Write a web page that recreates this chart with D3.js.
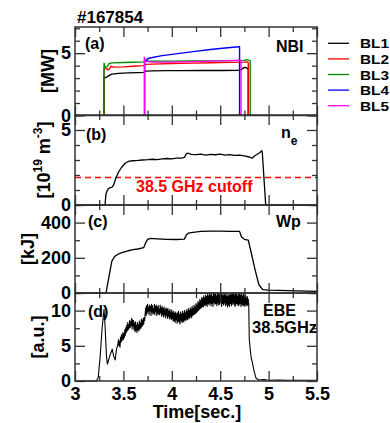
<!DOCTYPE html>
<html><head><meta charset="utf-8">
<script src="https://cdn.jsdelivr.net/npm/d3@7"></script>
<style>
body{margin:0;background:#fff}
svg text{font-family:"Liberation Sans",Arial,Helvetica,sans-serif;font-weight:bold}
</style>
</head><body>
<svg id="c" width="390" height="423"></svg>
<script>
// ---------- data ----------
const shotTitle = "#167854";
const seriesNames = ["BL1","BL2","BL3","BL4","BL5"];
const seriesColors = ["#000000","#ff0000","#008c00","#0000ff","#ff00ff"];
const bl1 = [[3.30,0],[3.30,3.0],[3.32,3.05],[3.35,3.2],[3.38,3.32],[3.45,3.38],[3.55,3.42],[3.65,3.44],[3.71,3.46],[3.73,3.56],[3.80,3.58],[3.95,3.6],[4.1,3.6],[4.3,3.61],[4.5,3.61],[4.7,3.62],[4.72,3.7],[4.75,3.86],[4.77,3.84],[4.79,3.72],[4.79,0]];
const bl2 = [[3.30,0],[3.30,3.82],[3.32,3.78],[3.34,3.66],[3.355,3.72],[3.37,3.95],[3.40,3.88],[3.5,3.9],[3.6,3.95],[3.71,4.0],[3.73,4.1],[3.8,4.12],[4.0,4.17],[4.2,4.2],[4.4,4.23],[4.6,4.26],[4.75,4.28],[4.78,4.3],[4.79,4.25],[4.79,0]];
const bl3 = [[3.30,0],[3.30,4.2],[3.31,3.88],[3.33,3.9],[3.35,4.15],[3.38,4.22],[3.5,4.25],[3.6,4.27],[3.71,4.3],[3.73,4.38],[3.8,4.35],[4.0,4.36],[4.2,4.37],[4.4,4.38],[4.6,4.4],[4.75,4.42],[4.77,4.48],[4.80,4.42],[4.81,4.4],[4.81,0]];
const bl4 = [[3.72,0],[3.72,4.5],[3.735,4.4],[3.75,4.55],[3.8,4.65],[3.9,4.8],[4.0,4.9],[4.2,5.1],[4.4,5.3],[4.55,5.42],[4.69,5.52],[4.70,5.52],[4.70,0]];
const bl5 = [[3.716,0],[3.716,4.68],[3.725,4.3],[3.74,4.35],[3.8,4.28],[4.0,4.28],[4.2,4.32],[4.4,4.36],[4.6,4.4],[4.70,4.43],[4.715,4.43],[4.715,0]];
const nbiSeries = [bl1,bl2,bl3,bl4,bl5];

const neData = [[3.0,0],[3.31,0],[3.32,0.75],[3.34,1.05],[3.36,1.15],[3.38,1.18],[3.40,1.35],[3.42,1.75],[3.45,2.2],[3.48,2.5],[3.52,2.8],[3.56,2.92],[3.60,2.95],[3.65,2.97],[3.70,3.0],[3.75,3.02],[3.80,3.05],[3.85,3.03],[3.90,3.08],[3.95,3.1],[4.0,3.08],[4.05,3.12],[4.10,3.13],[4.13,3.17],[4.15,3.42],[4.17,3.45],[4.20,3.38],[4.25,3.36],[4.30,3.39],[4.35,3.33],[4.40,3.37],[4.45,3.35],[4.50,3.39],[4.55,3.33],[4.60,3.36],[4.65,3.31],[4.70,3.33],[4.75,3.28],[4.80,3.2],[4.83,3.12],[4.86,3.3],[4.90,3.45],[4.93,3.62],[4.935,3.5],[4.97,0],[5.5,0]];
const cutoffValue = 1.83;
const cutoffLabel = "38.5 GHz cutoff";

const wpData = [[3.0,0],[3.32,0],[3.35,90],[3.38,180],[3.41,208],[3.45,222],[3.50,232],[3.55,240],[3.60,246],[3.65,250],[3.71,258],[3.73,285],[3.75,305],[3.78,310],[3.85,308],[3.95,305],[4.05,304],[4.13,306],[4.15,330],[4.17,340],[4.22,345],[4.30,350],[4.40,352],[4.50,352],[4.60,350],[4.70,350],[4.72,318],[4.75,305],[4.79,300],[4.82,230],[4.86,133],[4.90,47],[4.94,19],[5.0,16],[5.2,14],[5.4,11],[5.5,9]];

const ebeData = [[3.0,0],[3.22,0],[3.24,0.5],[3.26,3.5],[3.28,7.5],[3.30,10.2],[3.31,8.0],[3.325,3.5],[3.335,2.4],[3.36,3.6],[3.385,4.5],[3.40,3.5],[3.415,3.0],[3.43,4.6],[3.44,5.0],
[3.450,5.9],[3.455,5.0],[3.460,5.6],[3.465,4.8],[3.470,6.2],[3.475,5.5],[3.480,6.6],[3.485,5.7],[3.490,6.1],[3.495,6.9],[3.500,5.9],[3.505,6.7],[3.510,6.2],[3.515,7.3],[3.520,6.5],[3.525,7.6],[3.530,6.9],[3.535,7.9],[3.540,7.1],[3.545,8.3],[3.550,7.3],[3.555,8.0],[3.560,7.5],[3.565,8.6],[3.570,7.6],[3.575,8.4],[3.580,7.9],[3.585,8.9],[3.590,7.4],[3.595,8.7],[3.600,7.8],[3.605,8.6],[3.610,7.3],[3.615,8.2],[3.620,7.0],[3.625,8.4],[3.630,7.2],[3.635,7.9],[3.640,6.9],[3.645,8.3],[3.650,7.3],[3.655,8.0],[3.660,7.1],[3.665,8.5],[3.670,7.4],[3.675,8.2],[3.680,7.5],[3.685,8.8],[3.690,7.7],[3.695,8.6],[3.700,7.9],[3.705,8.9],[3.710,8.1],[3.715,9.0],[3.720,8.6],[3.725,9.6],
[3.730,10.4],[3.735,9.3],[3.740,10.7],[3.745,9.6],[3.750,10.9],[3.755,9.9],[3.760,10.5],[3.765,9.4],[3.770,10.8],[3.775,10.0],[3.780,10.6],[3.785,9.3],[3.790,10.9],[3.795,9.8],[3.800,10.7],[3.805,9.5],[3.810,10.3],[3.815,9.7],[3.820,10.9],[3.825,9.4],[3.830,10.6],[3.835,9.9],[3.840,10.8],[3.845,9.3],[3.850,10.5],[3.855,9.6],[3.860,10.7],[3.865,9.5],[3.870,10.2],[3.875,9.4],[3.880,10.8],[3.885,9.7],[3.890,10.4],[3.895,9.2],[3.900,10.6],[3.905,9.5],[3.910,10.3],[3.915,9.1],[3.920,10.5],[3.925,9.4],[3.930,10.1],[3.935,9.0],[3.940,10.4],[3.945,9.3],[3.950,10.2],[3.955,8.9],[3.960,10.3],[3.965,9.2],[3.970,9.9],[3.975,8.8],[3.980,10.2],[3.985,9.0],[3.990,9.8],[3.995,8.7],
[4.000,10.1],[4.005,8.9],[4.010,9.7],[4.015,8.5],[4.020,9.9],[4.025,8.6],[4.030,9.6],[4.035,8.3],[4.040,9.8],[4.045,8.7],[4.050,9.5],[4.055,8.2],[4.060,9.7],[4.065,8.5],[4.070,9.9],[4.075,8.4],[4.080,9.4],[4.085,8.1],[4.090,9.8],[4.095,8.6],[4.100,9.5],[4.105,8.3],[4.110,9.9],[4.115,8.5],[4.120,9.6],[4.125,8.4],[4.130,10.0],[4.135,8.7],[4.140,9.7],[4.145,8.6],[4.150,10.1],[4.155,8.8],[4.160,9.9],[4.165,8.7],[4.170,10.3],[4.175,9.0],[4.180,10.0],[4.185,8.9],[4.190,10.4],[4.195,9.2],[4.200,10.2],[4.205,9.0],[4.210,10.6],[4.215,9.3],[4.220,10.3],[4.225,9.4],[4.230,10.8],[4.235,9.5],[4.240,10.5],[4.245,9.6],
[4.250,11.0],[4.255,9.7],[4.260,10.8],[4.265,9.9],[4.270,11.3],[4.275,10.0],[4.280,11.1],[4.285,10.2],[4.290,11.6],[4.295,10.3],[4.300,11.4],[4.305,10.4],[4.310,11.9],[4.315,10.6],[4.320,11.7],[4.325,10.5],[4.330,12.1],[4.335,10.8],[4.340,11.8],[4.345,10.7],[4.350,12.2],[4.355,10.9],[4.360,12.0],[4.365,10.6],[4.370,12.4],[4.375,11.0],[4.380,12.1],[4.385,10.8],[4.390,12.5],[4.395,11.1],[4.400,12.2],[4.405,10.7],[4.410,12.4],[4.415,11.0],[4.420,12.0],[4.425,10.6],[4.430,12.5],[4.435,11.2],[4.440,12.3],[4.445,10.9],[4.450,12.5],[4.455,11.0],[4.460,12.1],[4.465,10.7],[4.470,12.4],[4.475,11.1],[4.480,12.5],[4.485,10.8],[4.490,12.2],[4.495,10.9],
[4.500,12.5],[4.505,11.2],[4.510,12.3],[4.515,10.6],[4.520,12.4],[4.525,11.0],[4.530,12.1],[4.535,10.8],[4.540,12.5],[4.545,11.1],[4.550,12.2],[4.555,10.7],[4.560,12.4],[4.565,10.9],[4.570,12.0],[4.575,10.5],[4.580,12.3],[4.585,10.8],[4.590,12.1],[4.595,10.6],[4.600,12.4],[4.605,11.0],[4.610,12.2],[4.615,10.7],[4.620,12.5],[4.625,10.9],[4.630,12.3],[4.635,11.1],[4.640,12.5],[4.645,10.8],[4.650,12.2],[4.655,10.6],[4.660,12.4],[4.665,11.0],[4.670,12.5],[4.675,10.9],[4.680,12.1],[4.685,10.7],[4.690,12.3],[4.695,10.8],[4.700,12.5],[4.705,11.0],[4.710,12.2],[4.715,10.6],[4.720,12.4],[4.725,10.9],[4.730,12.1],[4.735,10.7],[4.740,12.3],[4.745,10.8],[4.750,12.0],[4.755,10.6],[4.760,12.2],[4.765,10.9],[4.770,11.9],[4.775,10.7],[4.780,12.0],[4.785,10.8],[4.790,11.6],[4.795,10.9],
[4.80,6.0],[4.81,4.5],[4.82,3.3],[4.83,2.8],[4.85,1.4],[4.87,0.4],[4.90,0.15],[4.95,0.2],[5.0,0.1],[5.1,0.15],[5.2,0.1],[5.3,0.1],[5.4,0.1],[5.5,0.1]];

const xMajorTicks = [3,3.5,4,4.5,5,5.5];
const xMinorTicks = [3.25,3.75,4.25,4.75,5.25];
const aMajor=[0,5], aMinor=[1,2,3,4,6,7];
const bMajor=[0,5], bMinor=[1,2,3,4,6];
const cMajor=[0,200,400], cMinor=[100,300,500];
const dMajor=[0,5,10], dMinor=[2.5,7.5,12.5];

// ---------- layout ----------
const svg = d3.select("#c");
const L=75, R=317;
const x = d3.scaleLinear([3,5.5],[L,R]);
const ya = d3.scaleLinear([0,7.1],[115.5,27]);
const yb = d3.scaleLinear([0,6],[205,115]);
const yc = d3.scaleLinear([0,500],[293,205]);
const yd = d3.scaleLinear([0,12.5],[381,293]);
const tickColor="#333";

function curve(y, data, color, w){
  svg.append("path").datum(data)
    .attr("fill","none").attr("stroke",color).attr("stroke-width",w)
    .attr("stroke-linejoin","round")
    .attr("d", d3.line().x(d=>x(d[0])).y(d=>y(d[1])));
}

function frame(y, major, minor, xLabels){
  const top=y.range()[1], bot=y.range()[0];
  const style = g=>{g.select(".domain").remove(); g.selectAll("line").attr("stroke",tickColor).attr("stroke-width",1.3);};
  svg.append("g").attr("transform",`translate(${L},0)`)
    .call(d3.axisLeft(y).tickValues(major).tickSize(-10).tickPadding(4).tickFormat(d=>String(d)))
    .call(style).attr("font-size",18).attr("fill","#000")
    .selectAll("text").attr("fill","#000");
  svg.append("g").attr("transform",`translate(${L},0)`)
    .call(d3.axisLeft(y).tickValues(minor).tickSize(-5).tickFormat("")).call(style);
  svg.append("g").attr("transform",`translate(${R},0)`)
    .call(d3.axisRight(y).tickValues(major).tickSize(-10).tickFormat("")).call(style);
  svg.append("g").attr("transform",`translate(${R},0)`)
    .call(d3.axisRight(y).tickValues(minor).tickSize(-5).tickFormat("")).call(style);
  svg.append("g").attr("transform",`translate(0,${top})`)
    .call(d3.axisTop(x).tickValues(xMajorTicks).tickSize(-10).tickFormat("")).call(style);
  svg.append("g").attr("transform",`translate(0,${top})`)
    .call(d3.axisTop(x).tickValues(xMinorTicks).tickSize(-5).tickFormat("")).call(style);
  const gb = svg.append("g").attr("transform",`translate(0,${bot})`)
    .call(d3.axisBottom(x).tickValues(xMajorTicks).tickSize(-10).tickPadding(6)
      .tickFormat(xLabels? (d=>String(d)) : "")).call(style).attr("font-size",18);
  gb.selectAll("text").attr("fill","#000");
  svg.append("g").attr("transform",`translate(0,${bot})`)
    .call(d3.axisBottom(x).tickValues(xMinorTicks).tickSize(-5).tickFormat("")).call(style);
  svg.append("rect").attr("x",L).attr("y",top).attr("width",R-L).attr("height",bot-top)
    .attr("fill","none").attr("stroke",tickColor).attr("stroke-width",1.5);
}

function txt(xp,yp,s,size,opts={}){
  const t=svg.append("text").attr("x",xp).attr("y",yp).attr("font-size",size).text(s);
  if(opts.fill) t.attr("fill",opts.fill);
  if(opts.anchor) t.attr("text-anchor",opts.anchor);
  return t;
}
function ylabel(cx,cy,s){
  return svg.append("text").attr("transform",`translate(${cx},${cy}) rotate(-90)`)
    .attr("text-anchor","middle").attr("font-size",18).text(s);
}

// ---------- panel (a) NBI ----------
nbiSeries.forEach((s,i)=>curve(ya,s,seriesColors[i],1.4));
frame(ya,aMajor,aMinor,false);
txt(85,49,"(a)",16);
txt(276,52,"NBI",16);
ylabel(53.5,71,"[MW]");
// legend
seriesNames.forEach((n,i)=>{
  const ly = 43.3 + i*15.6;
  svg.append("line").attr("x1",328).attr("x2",349).attr("y1",ly).attr("y2",ly)
    .attr("stroke",seriesColors[i]).attr("stroke-width",1.3);
  txt(360,ly+5,n,13).attr("textLength",29).attr("lengthAdjust","spacingAndGlyphs");
});

// ---------- panel (b) ne ----------
svg.append("line").attr("x1",L).attr("x2",R).attr("y1",yb(cutoffValue)).attr("y2",yb(cutoffValue))
  .attr("stroke","#ff0000").attr("stroke-width",1.5).attr("stroke-dasharray","6,4");
curve(yb,neData,"#000",1.3);
frame(yb,bMajor,bMinor,false);
txt(136,192,cutoffLabel,16,{fill:"#ff0000"});
txt(86,140,"(b)",16);
const ne = txt(281,138,"n",16);
ne.append("tspan").attr("font-size",12).attr("dy",7).text("e");
const yl = svg.append("text").attr("transform",`translate(50,160) rotate(-90)`)
  .attr("text-anchor","middle").attr("font-size",18);
yl.append("tspan").text("[10");
yl.append("tspan").attr("font-size",12).attr("dy",-8).text("19");
yl.append("tspan").attr("dy",8).text(" m");
yl.append("tspan").attr("font-size",12).attr("dy",-8).text("-3");
yl.append("tspan").attr("dy",8).text("]");

// ---------- panel (c) Wp ----------
curve(yc,wpData,"#000",1.3);
frame(yc,cMajor,cMinor,false);
txt(88,227,"(c)",16);
txt(276,227,"Wp",16);
ylabel(33.5,249,"[kJ]");

// ---------- panel (d) EBE ----------
curve(yd,ebeData,"#000",1.1);
frame(yd,dMajor,dMinor,true);
txt(88,317,"(d)",16);
txt(263,316,"EBE",16);
txt(252,333,"38.5GHz",16.5);
ylabel(43.5,337,"[a.u.]");

// titles
txt(77,23,shotTitle,17);
txt(197,418,"Time[sec.]",18,{anchor:"middle"});
</script>
</body></html>
